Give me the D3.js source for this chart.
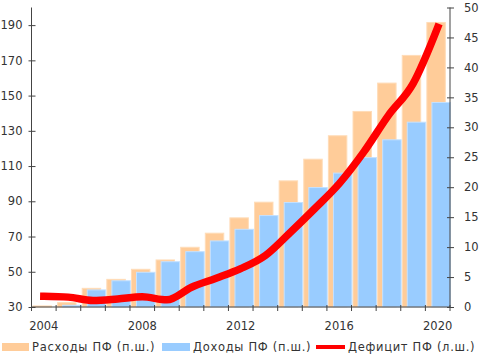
<!DOCTYPE html>
<html>
<head>
<meta charset="utf-8">
<script src="https://cdn.jsdelivr.net/npm/d3@7"></script>
<style>
body { margin: 0; background: #fff; }
text { font-family: "DejaVu Sans", Verdana, sans-serif; font-size: 11.5px; fill: #333; }
.legend text { letter-spacing: 0.7px; }
.axis path, .axis line { stroke: #444; }
</style>
</head>
<body>
<div class="chart"></div>
<script>
// data
var years = [2004, 2005, 2006, 2007, 2008, 2009, 2010, 2011, 2012, 2013, 2014, 2015, 2016, 2017, 2018, 2019, 2020];
var expenses = [30.6, 32.5, 40.6, 45.7, 51.4, 56.7, 63.9, 71.9, 80.6, 89.5, 101.6, 113.9, 127.2, 141, 157.1, 172.8, 191.5];
var revenues = [29, 31, 39.7, 44.9, 49.7, 55.7, 61.4, 67.5, 74.1, 81.9, 89.3, 97.8, 106, 114.8, 124.9, 134.9, 146.1];
var deficit = [1.8, 1.65, 1.1, 1.35, 1.7, 1.2, 3.3, 4.8, 6.4, 8.6, 12.4, 16.4, 20.6, 25.9, 32, 37.3, 46.7];
var yearLabels = [2004, 2008, 2012, 2016, 2020];
var leftTicks = [30, 50, 70, 90, 110, 130, 150, 170, 190];
var rightTicks = [0, 5, 10, 15, 20, 25, 30, 35, 40, 45, 50];
var legendNames = ["Расходы ПФ (п.ш.)", "Доходы ПФ (п.ш.)", "Дефицит ПФ (л.ш.)"];

// set the dimensions and margins of the graph
var margin = {top: 7.5, right: 32, bottom: 47, left: 31.5},
    width = 482 - margin.left - margin.right,
    height = 354 - margin.top - margin.bottom;

// set the ranges
var x = d3.scaleBand().domain(years).range([0, width]);
var y0 = d3.scaleLinear().domain([30, 200]).range([height, 0]).clamp(true);
var y1 = d3.scaleLinear().domain([0, 50]).range([height, 0]);
var bw = x.bandwidth();

var svg = d3.select(".chart").append("svg")
    .attr("width", 482)
    .attr("height", 354);

var chart = svg.append("g")
    .attr("transform", "translate(" + margin.left + "," + margin.top + ")");

// expenses bars
chart.selectAll(".exp")
    .data(years)
  .enter().append("rect")
    .attr("class", "exp")
    .attr("x", function(d) { return x(d) + bw * 0.06; })
    .attr("width", bw * 0.75)
    .attr("y", function(d, i) { return y0(expenses[i]); })
    .attr("height", function(d, i) { return height - y0(expenses[i]); })
    .style("fill", "#ffcc99")
    .style("stroke", "#ffdcb8")
    .style("stroke-width", 1);

// revenues bars
chart.selectAll(".rev")
    .data(years)
  .enter().append("rect")
    .attr("class", "rev")
    .attr("x", function(d) { return x(d) + bw * 0.265; })
    .attr("width", bw * 0.75)
    .attr("y", function(d, i) { return y0(revenues[i]); })
    .attr("height", function(d, i) { return height - y0(revenues[i]); })
    .style("fill", "#99ccff")
    .style("stroke", "#c4e1ff")
    .style("stroke-width", 1);

// deficit line
var valueline = d3.line()
    .x(function(d, i) { return x(years[i]) + bw / 2; })
    .y(function(d) { return y1(d); })
    .curve(d3.curveMonotoneX);

chart.append("path")
    .data([deficit])
    .attr("d", valueline)
    .style("stroke", "#ff0000")
    .style("stroke-width", 7.5)
    .style("stroke-linecap", "square")
    .style("fill", "none");

// left axis
var leftAxis = chart.append("g")
    .attr("class", "axis")
    .call(d3.axisLeft(y0).tickValues(leftTicks).tickSizeInner(3).tickSizeOuter(0).tickPadding(6));
leftAxis.selectAll(".tick line").attr("x1", 4);
leftAxis.select(".domain").attr("d", "M0," + height + "V0");

// right axis
var rightAxis = chart.append("g")
    .attr("class", "axis")
    .attr("transform", "translate(" + width + ",0)")
    .call(d3.axisRight(y1).tickValues(rightTicks).tickSizeInner(4).tickSizeOuter(0).tickPadding(10));
rightAxis.selectAll(".tick line").attr("x1", -3);
rightAxis.select(".domain").attr("d", "M0," + height + "V0");
rightAxis.selectAll("text").attr("text-anchor", "start");

// bottom axis: ticks on category boundaries, labels every 4 years
var xAxis = chart.append("g")
    .attr("class", "axis")
    .attr("transform", "translate(0," + height + ")");
xAxis.append("path")
    .attr("d", "M0,0H" + width)
    .style("fill", "none");
xAxis.selectAll("line")
    .data(years.concat([null]))
  .enter().append("line")
    .attr("x1", function(d, i) { return i * bw; })
    .attr("x2", function(d, i) { return i * bw; })
    .attr("y1", -2)
    .attr("y2", 4);
xAxis.selectAll("text")
    .data(yearLabels)
  .enter().append("text")
    .attr("x", function(d) { return x(d) + bw / 2; })
    .attr("y", 23)
    .attr("text-anchor", "middle")
    .text(function(d) { return d; });

// legend
var legend = svg.append("g").attr("class", "legend").attr("transform", "translate(0,347)");
legend.append("rect").attr("x", 2).attr("y", -4).attr("width", 27).attr("height", 8).style("fill", "#ffcc99");
legend.append("text").attr("x", 32).attr("y", 4).text(legendNames[0]);
legend.append("rect").attr("x", 162).attr("y", -4).attr("width", 28).attr("height", 8).style("fill", "#99ccff");
legend.append("text").attr("x", 193).attr("y", 4).text(legendNames[1]);
legend.append("line").attr("x1", 316).attr("x2", 345).attr("y1", 0).attr("y2", 0)
    .style("stroke", "#ff0000").style("stroke-width", 4);
legend.append("text").attr("x", 348).attr("y", 4).text(legendNames[2]);
</script>
</body>
</html>
